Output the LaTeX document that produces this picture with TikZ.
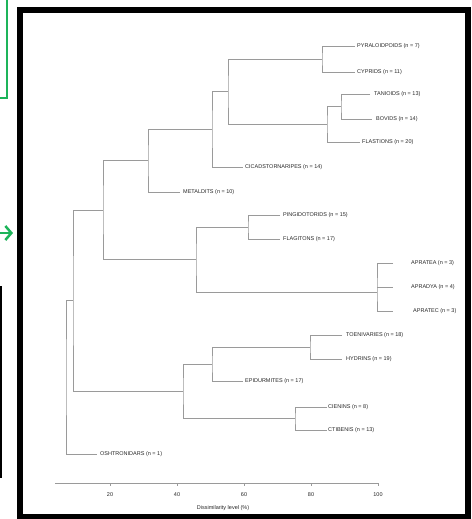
\documentclass[tikz,border=0pt]{standalone}
\usepackage{fontspec}
\setmainfont{Liberation Sans}
\usetikzlibrary{arrows.meta}
\definecolor{treegray}{HTML}{9A9A9A}
\definecolor{lblgray}{HTML}{262626}
\definecolor{grn}{HTML}{1DB45A}
\begin{document}
\begin{tikzpicture}[x=1pt,y=-1pt,
  branch/.style={draw=treegray, line width=0.7pt},
  leaflabel/.style={anchor=west, inner sep=0pt, text=lblgray, font=\fontsize{5.5}{6}\selectfont},
  ticklabel/.style={anchor=center, inner sep=0pt, text=lblgray, font=\fontsize{5.5}{6}\selectfont},
  axisline/.style={draw=treegray, line width=0.7pt},
  greenline/.style={draw=grn, line width=2.5pt},
  framebox/.style={draw=black, line width=6.5pt}
]
\useasboundingbox (0,0) rectangle (471,519);
\clip (0,0) rectangle (471,519);

% outside decorations
\draw[greenline] (-10,-10) rectangle (7,98);
\coordinate (ga) at (-6,233);
\coordinate (gb) at (13,233);
\draw[greenline, -{Straight Barb[length=6pt,width=14pt]}] (ga) -- (gb);
\draw[draw=black, line width=1.5pt] (-10,287) rectangle (1,477);

% frame
\draw[framebox] (20,10) rectangle (468,517);

% leaf ends
\coordinate (pyrE) at (355,46);
\coordinate (othE) at (355,72);
\coordinate (tanE) at (370,94);
\coordinate (bovE) at (372,119);
\coordinate (flaE) at (360,142);
\coordinate (cicE) at (243,167);
\coordinate (metE) at (180,192);
\coordinate (pinE) at (280,215);
\coordinate (flgE) at (280,239);
\coordinate (apaE) at (393,263);
\coordinate (apbE) at (393,287);
\coordinate (apcE) at (393,311);
\coordinate (toeE) at (342,335);
\coordinate (hydE) at (342,359);
\coordinate (epiE) at (243,381);
\coordinate (cieE) at (327,407);
\coordinate (ctiE) at (327,430);
\coordinate (oshE) at (97,454);

% internal nodes
\coordinate (nA) at (322,59);
\coordinate (nB) at (341,106.5);
\coordinate (nC) at (327,124);
\coordinate (nD) at (228,91.5);
\coordinate (nE) at (212,129);
\coordinate (nF) at (148,160.5);
\coordinate (nG) at (248,227);
\coordinate (nH) at (377,292);
\coordinate (nI) at (196,259.5);
\coordinate (nJ) at (103,210);
\coordinate (nK) at (310,347);
\coordinate (nL) at (212,364);
\coordinate (nM) at (295,418.5);
\coordinate (nN) at (183,391);
\coordinate (nO) at (73,300.5);
\coordinate (nR) at (66,377);

% brackets
\draw[branch] (pyrE) -| (nA) |- (othE);
\draw[branch] (tanE) -| (nB) |- (bovE);
\draw[branch] (nB) -| (nC) |- (flaE);
\draw[branch] (nA) -| (nD) |- (nC);
\draw[branch] (nD) -| (nE) |- (cicE);
\draw[branch] (nE) -| (nF) |- (metE);
\draw[branch] (pinE) -| (nG) |- (flgE);
\draw[branch] (apaE) -| (nH) |- (apcE);
\draw[branch] (nH |- apbE) -- (apbE);
\draw[branch] (nG) -| (nI) |- (nH);
\draw[branch] (nF) -| (nJ) |- (nI);
\draw[branch] (toeE) -| (nK) |- (hydE);
\draw[branch] (nK) -| (nL) |- (epiE);
\draw[branch] (cieE) -| (nM) |- (ctiE);
\draw[branch] (nL) -| (nN) |- (nM);
\draw[branch] (nJ) -| (nO) |- (nN);
\draw[branch] (nO) -| (nR) |- (oshE);

% labels
\node[leaflabel] (pyr) at (357,46) {PYRALOIDPOIDS (n = 7)};
\node[leaflabel] (oth) at (357,72) {CYPRIDS (n = 11)};
\node[leaflabel] (tan) at (374,94) {TANIOIDS (n = 13)};
\node[leaflabel] (bov) at (376,119) {BOVIDS (n = 14)};
\node[leaflabel] (fla) at (362,142) {FLASTIONS (n = 20)};
\node[leaflabel] (cic) at (245,167) {CICADSTORNARIPES (n = 14)};
\node[leaflabel] (met) at (183,192) {METALDITS (n = 10)};
\node[leaflabel] (pin) at (283,215) {PINGIDOTORIDS (n = 15)};
\node[leaflabel] (flg) at (283,239) {FLAGITONS (n = 17)};
\node[leaflabel] (apa) at (411,263) {APRATEA (n = 3)};
\node[leaflabel] (apb) at (411,287) {APRADYA (n = 4)};
\node[leaflabel] (apc) at (413,311) {APRATEC (n = 3)};
\node[leaflabel] (toe) at (346,335) {TOENIVARIES (n = 18)};
\node[leaflabel] (hyd) at (346,359) {HYDRINS (n = 19)};
\node[leaflabel] (epi) at (245,381) {EPIDURMITES (n = 17)};
\node[leaflabel] (cie) at (328,407) {CIENINS (n = 8)};
\node[leaflabel] (cti) at (328,430) {CTIBENIS (n = 13)};
\node[leaflabel] (osh) at (100,454) {OSHTRONIDARS (n = 1)};

% axis
\coordinate (axL) at (55,483);
\coordinate (axR) at (378,483);
\draw[axisline] (axL) -- (axR);
\foreach \tx/\tl in {110/20,177/40,244/60,311/80,378/100}{
  \draw[axisline] (\tx,483) -- (\tx,486);
  \node[ticklabel] (t\tl) at (\tx,495) {\tl};
}
\node[ticklabel] (axtitle) at (223,508) {Dissimilarity level (\%)};
\end{tikzpicture}
\end{document}
